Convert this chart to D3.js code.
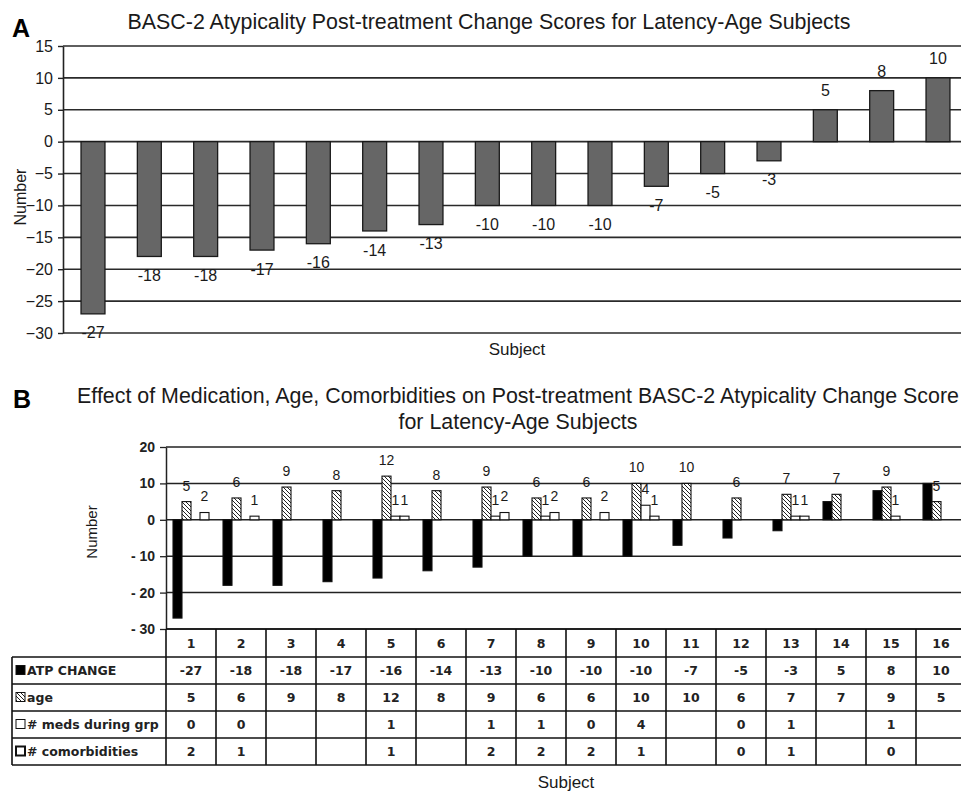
<!DOCTYPE html>
<html>
<head>
<meta charset="utf-8">
<script src="https://cdn.jsdelivr.net/npm/d3@7"></script>
<style>
  body { margin: 0; background: #fff; }
  svg { display: block; }
</style>
</head>
<body>
<div id="chart"></div>
<script>

// data
var subjects   = ["1","2","3","4","5","6","7","8","9","10","11","12","13","14","15","16"];
var atpChange  = [-27, -18, -18, -17, -16, -14, -13, -10, -10, -10, -7, -5, -3, 5, 8, 10];
var age        = [5, 6, 9, 8, 12, 8, 9, 6, 6, 10, 10, 6, 7, 7, 9, 5];
var meds       = [0, 0, null, null, 1, null, 1, 1, 0, 4, null, 0, 1, null, 1, null];
var comorb     = [2, 1, null, null, 1, null, 2, 2, 2, 1, null, 0, 1, null, 0, null];
var seriesKeys = ["atp", "age", "meds", "comorb"];
var seriesNames = ["ATP CHANGE", "age", "# meds during grp", "# comorbidities"];
var ticksA = [15, 10, 5, 0, -5, -10, -15, -20, -25, -30];
var ticksB = [20, 10, 0, -10, -20, -30];

var W = 961, H = 791;
var svg = d3.select("#chart").append("svg").attr("width", W).attr("height", H);

var defs = svg.append("defs");
var hatch = defs.append("pattern").attr("id", "hatch")
    .attr("patternUnits", "userSpaceOnUse").attr("width", 4).attr("height", 4);
hatch.append("rect").attr("width", 4).attr("height", 4).attr("fill", "#fff");
hatch.append("path").attr("d", "M-1,-1 L5,5 M-1,3 L1,5 M3,-1 L5,1")
    .attr("stroke", "#222").attr("stroke-width", 1);

var sansN = "'Liberation Sans Narrow', 'Arial Narrow', 'Liberation Sans', Arial, sans-serif";
var sans = "'Liberation Sans', Arial, sans-serif";

// ---------------- panel A ----------------
var gA = svg.append("g");
var leftA = 63, rightA = 968;
var yA = d3.scaleLinear().domain([-30, 15]).range([333, 46]);
var xA = d3.scaleBand().domain(subjects).range([leftA, rightA])
    .paddingInner(0.575).paddingOuter(0.32);

gA.append("text").attr("x", 12).attr("y", 37)
  .style("font", "bold 25px " + sans).text("A");
gA.append("text").attr("x", 489).attr("y", 29).attr("text-anchor", "middle")
  .style("font", "21.4px " + sans).attr("fill", "#1a1a1a")
  .text("BASC-2 Atypicality Post-treatment Change Scores for Latency-Age Subjects");

// gridlines
gA.selectAll("line.grid").data(ticksA).enter().append("line")
  .attr("class", "grid")
  .attr("x1", leftA).attr("x2", W)
  .attr("y1", function(d) { return yA(d); })
  .attr("y2", function(d) { return yA(d); })
  .attr("stroke", "#2a2a2a").attr("stroke-width", 1.6);

var axA = gA.append("g").attr("transform", "translate(" + leftA + ",0)")
  .call(d3.axisLeft(yA).tickValues(ticksA).tickSizeInner(5).tickSizeOuter(0).tickPadding(5));
axA.select(".domain").attr("stroke", "#222").attr("stroke-width", 1.6);
axA.selectAll(".tick line").attr("stroke", "#222").attr("stroke-width", 1.4);
axA.selectAll(".tick text").style("font", "16px " + sansN).attr("fill", "#1a1a1a");

gA.selectAll("rect.bar").data(atpChange).enter().append("rect")
  .attr("class", "bar")
  .attr("x", function(d, i) { return xA(subjects[i]); })
  .attr("width", xA.bandwidth())
  .attr("y", function(d) { return yA(Math.max(0, d)); })
  .attr("height", function(d) { return Math.abs(yA(d) - yA(0)); })
  .attr("fill", "#666").attr("stroke", "#1a1a1a").attr("stroke-width", 1.3);

gA.selectAll("text.lab").data(atpChange).enter().append("text")
  .attr("class", "lab")
  .attr("x", function(d, i) { return xA(subjects[i]) + xA.bandwidth() / 2; })
  .attr("y", function(d) { return yA(d) + (d < 0 ? 19 : -19); })
  .attr("dy", "0.35em").attr("text-anchor", "middle")
  .style("font", "16px " + sansN).attr("fill", "#1a1a1a")
  .text(function(d) { return d; });

gA.append("text").attr("transform", "translate(26,197) rotate(-90)")
  .attr("text-anchor", "middle").style("font", "16px " + sansN).attr("fill", "#1a1a1a")
  .text("Number");
gA.append("text").attr("x", 517).attr("y", 355).attr("text-anchor", "middle")
  .style("font", "17px " + sansN).attr("fill", "#1a1a1a").text("Subject");

// ---------------- panel B ----------------
var gB = svg.append("g");
var leftB = 166, rightB = 966;
var yB = d3.scaleLinear().domain([-30, 20]).range([629, 447]);
var xCol = d3.scaleBand().domain(subjects).range([leftB, rightB]);
var x0 = d3.scaleBand().domain(subjects).range([leftB, rightB])
    .paddingInner(0.28).paddingOuter(0.14);
var x1 = d3.scaleBand().domain(seriesKeys).range([0, x0.bandwidth()]);

gB.append("text").attr("x", 13).attr("y", 408)
  .style("font", "bold 25px " + sans).text("B");
gB.append("text").attr("x", 518).attr("y", 403).attr("text-anchor", "middle")
  .style("font", "21.4px " + sans).attr("fill", "#1a1a1a")
  .text("Effect of Medication, Age, Comorbidities on Post-treatment BASC-2 Atypicality Change Score");
gB.append("text").attr("x", 518).attr("y", 429).attr("text-anchor", "middle")
  .style("font", "21.4px " + sans).attr("fill", "#1a1a1a")
  .text("for Latency-Age Subjects");

gB.selectAll("line.grid").data(ticksB).enter().append("line")
  .attr("class", "grid")
  .attr("x1", leftB).attr("x2", W)
  .attr("y1", function(d) { return yB(d); })
  .attr("y2", function(d) { return yB(d); })
  .attr("stroke", "#222").attr("stroke-width", 1.5);

var axB = gB.append("g").attr("transform", "translate(" + leftB + ",0)")
  .call(d3.axisLeft(yB).tickValues(ticksB).tickSizeInner(6).tickSizeOuter(0).tickPadding(5)
        .tickFormat(function(d) { return d < 0 ? "- " + Math.abs(d) : d; }));
axB.select(".domain").attr("stroke", "#222").attr("stroke-width", 1.5);
axB.selectAll(".tick line").attr("stroke", "#222").attr("stroke-width", 1.3);
axB.selectAll(".tick text").style("font", "bold 14px " + sans).attr("fill", "#222");

var series = {atp: atpChange, age: age, meds: meds, comorb: comorb};
var fills = {atp: "#000", age: "url(#hatch)", meds: "#fff", comorb: "#fff"};
var barData = [];
seriesKeys.forEach(function(k) {
  series[k].forEach(function(v, i) {
    if (v !== null) barData.push({key: k, subject: subjects[i], value: v});
  });
});

gB.selectAll("rect.bar").data(barData).enter().append("rect")
  .attr("class", "bar")
  .attr("x", function(d) { return x0(d.subject) + x1(d.key); })
  .attr("width", x1.bandwidth())
  .attr("y", function(d) { return yB(Math.max(0, d.value)); })
  .attr("height", function(d) { return Math.abs(yB(d.value) - yB(0)); })
  .attr("fill", function(d) { return fills[d.key]; })
  .attr("stroke", function(d) { return d.value === 0 ? "none" : "#111"; })
  .attr("stroke-width", 1.1);

gB.selectAll("text.lab").data(barData.filter(function(d) { return d.key !== "atp" && d.value > 0; }))
  .enter().append("text").attr("class", "lab")
  .attr("x", function(d) { return x0(d.subject) + x1(d.key) + x1.bandwidth() / 2; })
  .attr("y", function(d) { return yB(d.value) - 16; })
  .attr("dy", "0.35em").attr("text-anchor", "middle")
  .style("font", "14px " + sans).attr("fill", "#1a1a1a")
  .text(function(d) { return d.value; });

gB.append("text").attr("transform", "translate(97,532) rotate(-90)")
  .attr("text-anchor", "middle").style("font", "15px " + sansN).attr("fill", "#1a1a1a")
  .text("Number");

// data table under panel B
var rowTop = 629, headH = 28, rowH = 27, legLeft = 12;
var rows = [atpChange, age, meds, comorb];
var tb = gB.append("g").attr("fill", "none").attr("stroke", "#111").attr("stroke-width", 1.6);
var tableBottom = rowTop + headH + rows.length * rowH;
// header row box + column lines
tb.append("line").attr("x1", leftB).attr("x2", W).attr("y1", rowTop).attr("y2", rowTop);
subjects.forEach(function(s) {
  tb.append("line").attr("x1", xCol(s)).attr("x2", xCol(s))
    .attr("y1", rowTop).attr("y2", tableBottom);
});
tb.append("line").attr("x1", rightB).attr("x2", rightB).attr("y1", rowTop).attr("y2", tableBottom);
d3.range(rows.length + 1).forEach(function(r) {
  var y = rowTop + headH + r * rowH;
  tb.append("line").attr("x1", legLeft).attr("x2", W).attr("y1", y).attr("y2", y);
});
tb.append("line").attr("x1", legLeft).attr("x2", legLeft)
  .attr("y1", rowTop + headH).attr("y2", tableBottom);

var tfont = "bold 12.5px 'DejaVu Sans', Verdana, sans-serif";
gB.selectAll("text.head").data(subjects).enter().append("text").attr("class", "head")
  .attr("x", function(d) { return xCol(d) + xCol.bandwidth() / 2; })
  .attr("y", rowTop + headH / 2).attr("dy", "0.36em").attr("text-anchor", "middle")
  .style("font", tfont).attr("fill", "#222").text(function(d) { return d; });

rows.forEach(function(vals, r) {
  var yc = rowTop + headH + r * rowH + rowH / 2;
  gB.selectAll("text.r" + r).data(vals).enter().append("text").attr("class", "r" + r)
    .attr("x", function(d, i) { return xCol(subjects[i]) + xCol.bandwidth() / 2; })
    .attr("y", yc).attr("dy", "0.36em").attr("text-anchor", "middle")
    .style("font", tfont).attr("fill", "#222")
    .text(function(d) { return d === null ? "" : d; });
  // legend key + name
  var k = seriesKeys[r];
  gB.append("rect").attr("x", legLeft + 4).attr("y", yc - 5).attr("width", 9).attr("height", 9)
    .attr("fill", fills[k]).attr("stroke", "#111").attr("stroke-width", k === "comorb" ? 2 : 1);
  gB.append("text").attr("x", legLeft + 15).attr("y", yc).attr("dy", "0.36em")
    .style("font", tfont).attr("fill", "#222").text(seriesNames[r]);
});

gB.append("text").attr("x", 566).attr("y", 788).attr("text-anchor", "middle")
  .style("font", "17px " + sans).attr("fill", "#1a1a1a").text("Subject");

</script>
</body>
</html>
